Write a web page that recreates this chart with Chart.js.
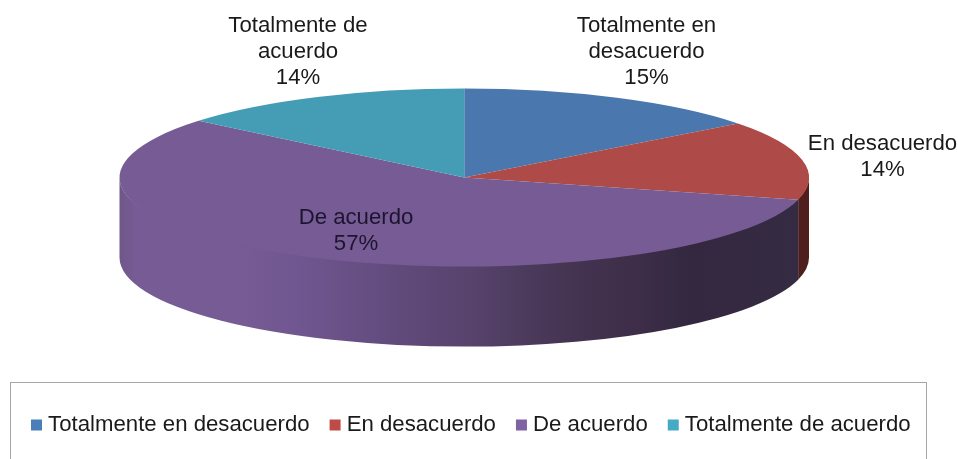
<!DOCTYPE html>
<html>
<head>
<meta charset="utf-8">
<style>
    html, body { margin: 0; padding: 0; background: #fff; }
    canvas { display: block; }
</style>
<script src="https://cdn.jsdelivr.net/npm/chart.js@4"></script>
</head>
<body>
<canvas id="chart" width="958" height="459"></canvas>
<script>
const categories = ['Totalmente en desacuerdo', 'En desacuerdo', 'De acuerdo', 'Totalmente de acuerdo'];
const values = [14.6, 14.4, 57, 14];
const labelLines = [['Totalmente en', 'desacuerdo'], ['En desacuerdo'], ['De acuerdo'], ['Totalmente de', 'acuerdo']];

const topColors = ['#4a78ae', '#ae4a47', '#765b94', '#449db5'];
const legendColors = ['#4a7ebb', '#be4b48', '#7e62a1', '#46aac5'];
const labelColors = ['#1a1a1a', '#1a1a1a', '#1c1530', '#1a1a1a'];
const labelCenters = [[646.5, 26], [882.5, 143.5], [356, 217.5], [298, 26]];

const FONT = '"Liberation Sans", Arial, sans-serif';
const PIE = { cx: 464.25, cy: 177.6, rx: 344.75, ry: 89, depth: 80 };

function wallFill(ctx, index) {
    if (index === 1) return '#4e1f1c';
    const g = ctx.createLinearGradient(PIE.cx - PIE.rx, 0, PIE.cx + PIE.rx, 0);
    const stops = [[119, '#705789'], [135, '#765b94'], [240, '#765b94'], [300, '#705690'], [400, '#604a7b'],
        [470, '#57436c'], [560, '#463553'], [640, '#3d2d48'], [690, '#332840'], [809, '#352b42']];
    for (const [x, color] of stops) g.addColorStop((x - 119) / 690, color);
    return g;
}

const pie3d = {
    id: 'pie3d',
    beforeDatasetsDraw(chart) {
        const ctx = chart.ctx;
        const arcs = chart.getDatasetMeta(0).data;
        // side wall, only the front half of the ellipse shows
        arcs.forEach((arc, i) => {
            const a = Math.max(arc.startAngle, 0);
            const b = Math.min(arc.endAngle, Math.PI);
            if (a >= b) return;
            ctx.beginPath();
            // top edge sits a bit under the lid so no white seam shows
            ctx.ellipse(PIE.cx, PIE.cy, PIE.rx, PIE.ry - 2, 0, a, b);
            ctx.ellipse(PIE.cx, PIE.cy + PIE.depth, PIE.rx, PIE.ry, 0, b, a, true);
            ctx.closePath();
            ctx.fillStyle = wallFill(ctx, i);
            ctx.fill();
        });
        ctx.save();
        ctx.translate(PIE.cx, PIE.cy);
        ctx.scale(1, PIE.ry / PIE.rx);
        ctx.translate(-arcs[0].x, -arcs[0].y);
    },
    afterDatasetsDraw(chart) {
        const ctx = chart.ctx;
        ctx.restore();
        ctx.save();
        ctx.font = '22.2px ' + FONT;
        ctx.textAlign = 'center';
        ctx.textBaseline = 'middle';
        const total = values.reduce((s, v) => s + v, 0);
        categories.forEach((c, i) => {
            const lines = [...labelLines[i], Math.round(100 * values[i] / total) + '%'];
            ctx.fillStyle = labelColors[i];
            lines.forEach((line, n) => {
                ctx.fillText(line, labelCenters[i][0], labelCenters[i][1] + n * 26);
            });
        });
        ctx.restore();
    },
    afterDraw(chart) {
        const ctx = chart.ctx;
        ctx.save();
        ctx.strokeStyle = '#a6a6a6';
        ctx.lineWidth = 1;
        ctx.strokeRect(10.5, 382.5, 916, 100);
        ctx.restore();
    }
};

new Chart(document.getElementById('chart').getContext('2d'), {
    type: 'pie',
    data: {
        labels: categories,
        datasets: [{
            data: values,
            backgroundColor: topColors,
            borderWidth: 0,
            radius: PIE.rx,
            clip: false
        }]
    },
    options: {
        responsive: false,
        animation: false,
        layout: { padding: { left: 11, bottom: 13 } },
        plugins: {
            tooltip: { enabled: false },
            legend: {
                position: 'bottom',
                align: 'start',
                labels: {
                    font: { family: FONT, size: 22.2 },
                    color: '#1a1a1a',
                    usePointStyle: true,
                    pointStyle: 'rect',
                    boxWidth: 1,
                    boxHeight: 11,
                    padding: 25,
                    generateLabels(chart) {
                        return categories.map((text, index) => ({
                            text,
                            index,
                            fillStyle: legendColors[index],
                            strokeStyle: legendColors[index],
                            fontColor: '#1a1a1a',
                            lineWidth: 0,
                            pointStyle: 'rect',
                            hidden: false
                        }));
                    }
                }
            }
        }
    },
    plugins: [pie3d]
});
</script>
</body>
</html>
